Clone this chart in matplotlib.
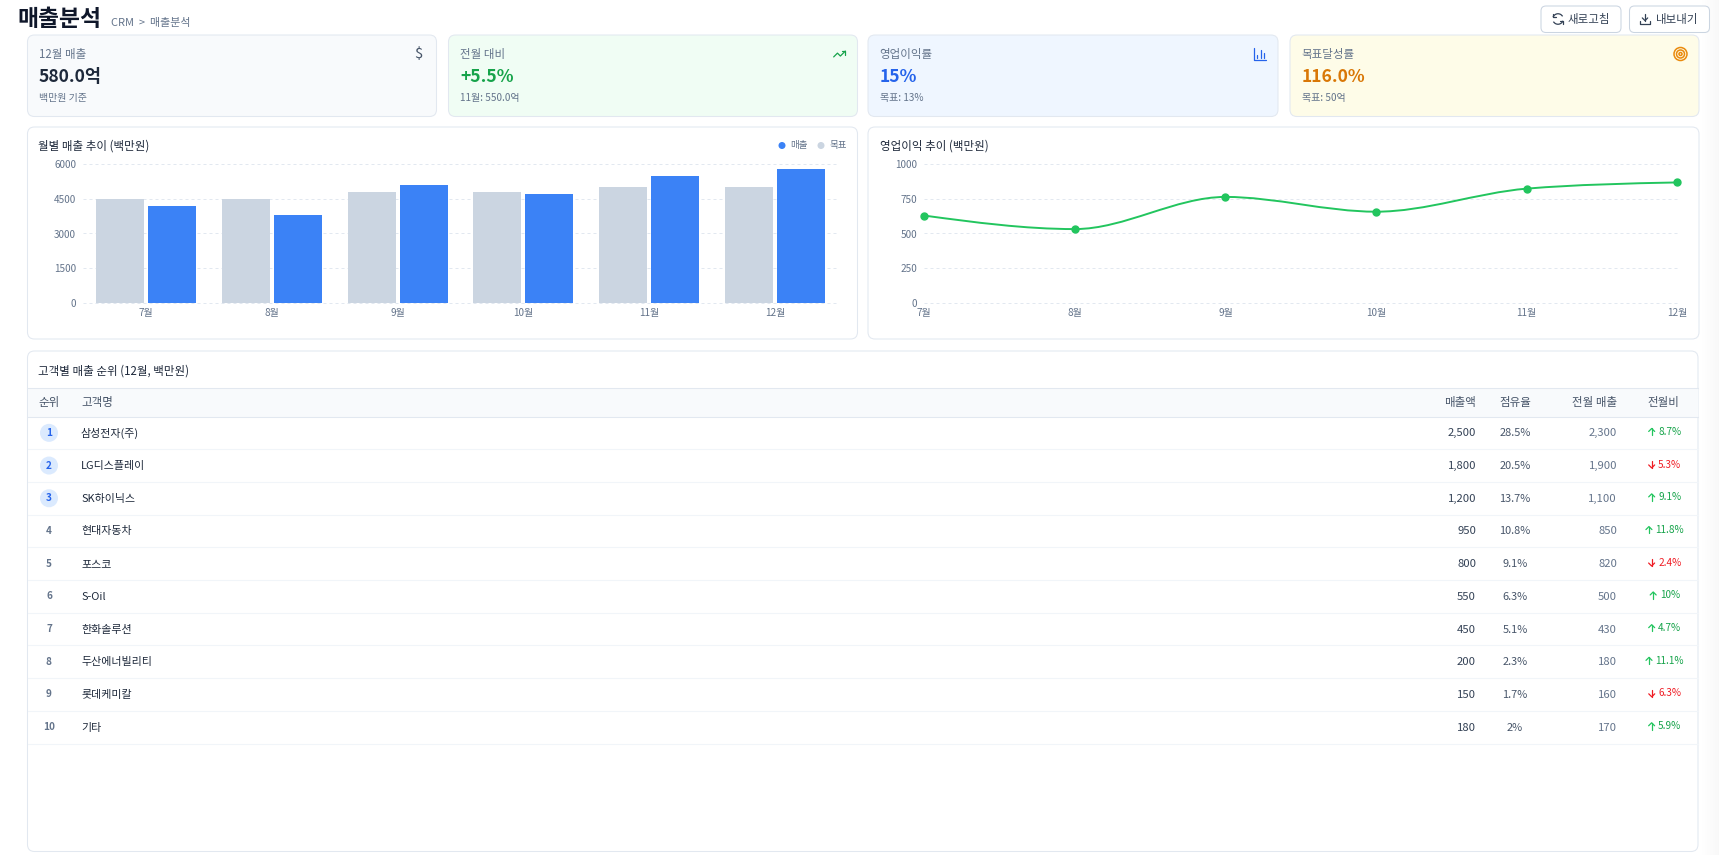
import numpy as np
import matplotlib
matplotlib.use('Agg')
import matplotlib.pyplot as plt
from matplotlib.patches import FancyBboxPatch, Circle, Rectangle, Arc, PathPatch
from matplotlib.path import Path

plt.rcParams['font.family'] = ['Noto Sans CJK KR', 'DejaVu Sans']

W, H = 1719, 855

# 차트 데이터
months = ['7월', '8월', '9월', '10월', '11월', '12월']
target = [4500, 4500, 4800, 4800, 5000, 5000]
revenue = [4200, 3800, 5100, 4700, 5500, 5800]
profit = [630, 532, 765, 658, 825, 870]
rev_ticks = [0, 1500, 3000, 4500, 6000]
profit_ticks = [0, 250, 500, 750, 1000]

# 상단 카드
card_labels = ['12월 매출', '전월 대비', '영업이익률', '목표달성률']
card_values = ['580.0억', '+5.5%', '15%', '116.0%']
card_subs = ['백만원 기준', '11월: 550.0억', '목표: 13%', '목표: 50억']
card_bg = ['#f8fafc', '#f0fdf4', '#eff6ff', '#fefce8']
card_fg = ['#1e293b', '#16a34a', '#2563eb', '#d97706']
card_x = [(27.5, 436.5), (448.5, 857.5), (868, 1278), (1290, 1699)]

# 고객 테이블
headers = ['순위', '고객명', '매출액', '점유율', '전월 매출', '전월비']
customers = ['삼성전자(주)', 'LG디스플레이', 'SK하이닉스', '현대자동차', '포스코',
             'S-Oil', '한화솔루션', '두산에너빌리티', '롯데케미칼', '기타']
amounts = [2500, 1800, 1200, 950, 800, 550, 450, 200, 150, 180]
shares = [28.5, 20.5, 13.7, 10.8, 9.1, 6.3, 5.1, 2.3, 1.7, 2]
prev_amounts = [2300, 1900, 1100, 850, 820, 500, 430, 180, 160, 170]
changes = [8.7, -5.3, 9.1, 11.8, -2.4, 10, 4.7, 11.1, -6.3, 5.9]

fig = plt.figure(figsize=(W / 100, H / 100), dpi=100, facecolor='white')
bg = fig.add_axes([0, 0, 1, 1])
bg.set_xlim(0, W)
bg.set_ylim(H, 0)
bg.axis('off')


def px(size):
    return size * 0.72


def card(x0, y0, x1, y1, face='white', edge='#e2e8f0', r=7):
    bg.add_patch(FancyBboxPatch((x0, y0), x1 - x0, y1 - y0,
                                boxstyle='round,pad=0,rounding_size=%g' % r,
                                fc=face, ec=edge, lw=0.75))


def label(x, y, s, size=11, color='#1e293b', ha='left', weight='normal'):
    return bg.text(x, y, s, fontsize=px(size), color=color, ha=ha, va='center',
                   fontweight=weight)


def icon(lines, cx, cy, size, color, lw=0.9):
    # 24x24 아이콘 좌표를 화면 좌표로 변환
    k = size / 24
    for pts in lines:
        pts = np.array(pts, dtype=float)
        bg.plot(cx + (pts[:, 0] - 12) * k, cy + (pts[:, 1] - 12) * k, color=color,
                lw=lw, solid_capstyle='round', solid_joinstyle='round')


def monotone_path(xs, ys):
    # 단조 3차 곡선(베지어)
    xs = np.asarray(xs, dtype=float)
    ys = np.asarray(ys, dtype=float)
    h = np.diff(xs)
    d = np.diff(ys) / h
    t = np.zeros(len(xs))
    for i in range(1, len(xs) - 1):
        p = (d[i - 1] * h[i] + d[i] * h[i - 1]) / (h[i - 1] + h[i])
        s = (np.sign(d[i - 1]) + np.sign(d[i]))
        t[i] = s * min(abs(d[i - 1]), abs(d[i]), 0.5 * abs(p))
    t[0] = (3 * d[0] - t[1]) / 2
    t[-1] = (3 * d[-1] - t[-2]) / 2
    verts = [(xs[0], ys[0])]
    codes = [Path.MOVETO]
    for i in range(len(h)):
        verts += [(xs[i] + h[i] / 3, ys[i] + h[i] * t[i] / 3),
                  (xs[i + 1] - h[i] / 3, ys[i + 1] - h[i] * t[i + 1] / 3),
                  (xs[i + 1], ys[i + 1])]
        codes += [Path.CURVE4] * 3
    return Path(verts, codes)


# 오른쪽 스크롤바 영역
bg.imshow(np.linspace(1.0, 0.972, 20).reshape(1, -1), extent=(1699, W, H, 0), cmap='gray',
          vmin=0, vmax=1, aspect='auto', zorder=0)
bg.set_xlim(0, W)
bg.set_ylim(H, 0)

# 헤더
label(17, 19.5, '매출분석', size=22.8, color='#0f172a', weight='bold')
label(111, 23, 'CRM  >  매출분석', size=11, color='#64748b')
card(1541, 6, 1621, 32.5, edge='#cbd5e1', r=5)
card(1629.5, 6, 1709.5, 32.5, edge='#cbd5e1', r=5)
label(1568, 19.5, '새로고침', size=11.5, color='#334155')
label(1656, 19.5, '내보내기', size=11.5, color='#334155')
bg.add_patch(Arc((1558, 19), 10.5, 10.5, theta1=200, theta2=330, color='#334155', lw=0.9))
bg.add_patch(Arc((1558, 19), 10.5, 10.5, theta1=20, theta2=150, color='#334155', lw=0.9))
icon([[(3, 3), (3, 9), (9, 9)], [(21, 21), (21, 15), (15, 15)]], 1558, 19, 13, '#334155')
icon([[(3, 15), (3, 21), (21, 21), (21, 15)], [(12, 3), (12, 15)], [(7, 10), (12, 15), (17, 10)]],
     1645, 19, 13, '#334155')

# 상단 카드
for (x0, x1), name, val, sub, face, fg in zip(card_x, card_labels, card_values, card_subs, card_bg, card_fg):
    card(x0, 35, x1, 116.5, face=face)
    label(x0 + 11.5, 54.5, name, size=11.5, color='#64748b')
    label(x0 + 11.5, 77, val, size=17.5, color=fg, weight='bold')
    label(x0 + 11.5, 98, sub, size=10, color='#64748b')

label(418, 54, '$', size=15, color='#475569', ha='center')
icon([[(2, 17), (8.5, 10.5), (13.5, 15.5), (22, 7)], [(16, 7), (22, 7), (22, 13)]], 839.5, 54, 14, '#16a34a')
icon([[(3, 3), (3, 21), (21, 21)], [(8, 18), (8, 14)], [(13, 18), (13, 6)], [(18, 18), (18, 10)]],
     1260, 54, 16, '#2563eb')
for r_ in [6.5, 4, 1.5]:
    bg.add_patch(Circle((1680.5, 54), r_, fc='none', ec='#ea8a0c', lw=1.1))

# 차트 카드
card(27.5, 127, 857.5, 339)
card(868, 127, 1699, 339)
label(38.5, 146, '월별 매출 추이 (백만원)', size=11.5)
label(879.5, 146, '영업이익 추이 (백만원)', size=11.5)
bg.add_patch(Circle((782, 145.5), 3.5, fc='#3b82f6', ec='none'))
label(790, 145.5, '매출', size=9.5, color='#64748b')
bg.add_patch(Circle((821, 145.5), 3.5, fc='#cbd5e1', ec='none'))
label(829, 145.5, '목표', size=9.5, color='#64748b')


def chart_axes(x0, x1, y0=164.5, y1=302.5):
    ax = fig.add_axes([x0 / W, 1 - y1 / H, (x1 - x0) / W, (y1 - y0) / H], facecolor='none')
    for s in ax.spines.values():
        s.set_visible(False)
    ax.tick_params(length=0, labelsize=px(10), labelcolor='#64748b')
    ax.tick_params(axis='x', pad=4)
    ax.tick_params(axis='y', pad=5)
    ax.yaxis.grid(True, color='#e2e8f0', lw=0.72, ls=(0, (3, 3)), clip_on=False)
    ax.set_axisbelow(True)
    return ax


# 월별 매출
ax1 = chart_axes(83, 838)
x = np.arange(len(months))
ax1.bar(x - 0.207, target, width=0.382, color='#cbd5e1', lw=0)
ax1.bar(x + 0.207, revenue, width=0.382, color='#3b82f6', lw=0)
ax1.set_xlim(-0.5, 5.5)
ax1.set_ylim(0, 6000)
ax1.set_xticks(x, months)
ax1.set_yticks(rev_ticks)

# 영업이익
ax2 = chart_axes(924.2, 1677.3)
ax2.add_patch(PathPatch(monotone_path(x, profit), fc='none', ec='#22c55e', lw=1.4, clip_on=False))
ax2.plot(x, profit, 'o', color='#22c55e', ms=5, clip_on=False, zorder=5)
ax2.set_xlim(0, 5)
ax2.set_ylim(0, 1000)
ax2.set_xticks(x, months)
ax2.set_yticks(profit_ticks)

# 테이블
card(27.5, 351, 1698, 851.5)
label(38.5, 371, '고객별 매출 순위 (12월, 백만원)', size=11.5)
bg.add_patch(Rectangle((28, 387.5), 1669.5, 29, fc='#f8fafc', ec='none'))
bg.plot([28, 1697.5], [387.5, 387.5], color='#e2e8f0', lw=0.75)
bg.plot([28, 1697.5], [416.5, 416.5], color='#e2e8f0', lw=0.75)

col_x = [49, 81, 1476, 1515, 1617, 1663]
col_ha = ['center', 'left', 'right', 'center', 'right', 'center']
for cx, ha, name in zip(col_x, col_ha, headers):
    label(cx, 402, name, size=11.5, color='#475569', ha=ha)

row_h = 32.7
renderer = fig.canvas.get_renderer()
for i in range(len(customers)):
    yc = 416.5 + row_h * (i + 0.5)
    bg.plot([28, 1697.5], [416.5 + row_h * (i + 1)] * 2, color='#f1f5f9', lw=0.75)
    if i < 3:
        bg.add_patch(Circle((49, yc), 9, fc='#dbeafe', ec='none'))
        label(49, yc, str(i + 1), size=10, color='#2563eb', ha='center', weight='bold')
    else:
        label(49, yc, str(i + 1), size=10, color='#64748b', ha='center', weight='bold')
    label(81, yc + 0.5, customers[i], size=11, color='#1e293b')
    label(1476, yc + 0.5, f'{amounts[i]:,}', size=11.3, color='#334155', ha='right')
    label(1515, yc + 0.5, f'{shares[i]:g}%', size=11, color='#475569', ha='center')
    label(1617, yc + 0.5, f'{prev_amounts[i]:,}', size=11.3, color='#64748b', ha='right')

    # 전월비: 화살표 + 숫자, 가운데 정렬
    up = changes[i] > 0
    color = '#16a34a' if up else '#ef1c24'
    arrow_color = '#22c55e' if up else '#ef1c24'
    t = label(0, yc - 1, f'{abs(changes[i]):g}%', size=10, color=color)
    tw = t.get_window_extent(renderer).width
    left = 1664.5 - (tw + 10.5) / 2
    t.set_x(left + 10.5)
    ax_ = left + 4
    if up:
        icon([[(12, 3), (12, 21)], [(4, 11), (12, 3), (20, 11)]], ax_, yc - 1, 9, arrow_color)
    else:
        icon([[(12, 3), (12, 21)], [(4, 13), (12, 21), (20, 13)]], ax_, yc - 1, 9, arrow_color)

fig.savefig('out.png', dpi=100, facecolor='white')
